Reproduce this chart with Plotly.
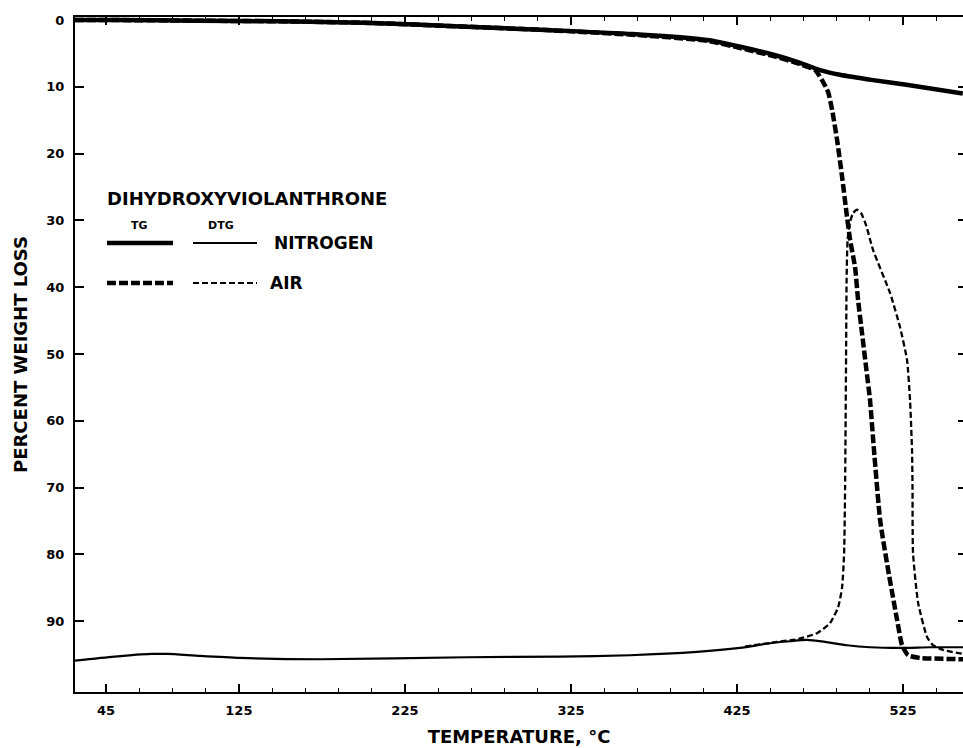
import plotly.graph_objects as go

# ---- Thermogravimetric data: dihydroxyviolanthrone ----
# TG (percent weight loss) in nitrogen
tg_n2_temp = [26, 50, 100, 150, 200, 262, 310, 362, 407, 427, 447, 463, 475, 487, 507, 527, 561]
tg_n2_loss = [0.0, 0.0, 0.1, 0.2, 0.4, 1.0, 1.5, 2.1, 3.0, 4.0, 5.2, 6.4, 7.5, 8.2, 9.0, 9.7, 11.0]

# TG (percent weight loss) in air
tg_air_temp = [26, 50, 100, 150, 200, 262, 310, 362, 407, 427, 447, 463, 472.0, 476.2, 479.9,
               482.3, 485.3, 488.3, 490.7, 493.1, 496.1, 497.9, 500.3, 502.7, 505.1, 507.5,
               511.2, 516.0, 521.4, 524.4, 528.0, 535.2, 561.1]
tg_air_loss = [0.0, 0.0, 0.1, 0.2, 0.4, 1.0, 1.5, 2.2, 3.1, 4.2, 5.4, 6.6, 7.5, 9.0, 10.8,
               13.5, 18.0, 23.5, 28.4, 32.9, 37.0, 41.9, 46.9, 51.9, 56.9, 64.4,
               74.9, 82.3, 89.8, 93.6, 95.1, 95.5, 95.7]

# DTG trace in nitrogen (plotted on the same percent scale)
dtg_n2_temp = [26.3, 50, 72, 82, 101.6, 125.7, 173.9, 262.4, 318.4, 360.6, 400.9, 426.8,
               444.9, 457.0, 467.2, 478.0, 491.3, 505.1, 523.2, 541.3, 561.1]
dtg_n2_val = [95.9, 95.3, 94.9, 94.9, 95.2, 95.5, 95.7, 95.4, 95.3, 95.1, 94.6, 94.0,
              93.3, 93.0, 92.8, 93.1, 93.6, 93.9, 94.0, 93.9, 93.9]

# DTG trace in air
dtg_air_temp = [429.8, 449.1, 461.2, 473.2, 481.0, 485.9, 488.3, 489.5, 490.1, 490.4, 490.7,
                491.0, 491.6, 493.1, 494.9, 497.3, 499.7, 502.7, 506.9, 517.2, 523.2, 527.4,
                529.2, 530.4, 530.7, 531.0, 534.1, 539.5, 543.1, 549.1, 561.1]
dtg_air_val = [93.8, 93.1, 92.7, 91.8, 90.3, 87.9, 84.9, 79.8, 69.9, 59.9, 49.4,
               38.9, 32.9, 30.2, 28.9, 28.4, 28.9, 30.7, 34.4, 40.9, 46.0, 50.9,
               56.9, 64.4, 69.9, 79.8, 87.3, 92.4, 93.6, 94.3, 94.9]

# Axis ticks
x_tick_vals = [45, 125, 225, 325, 425, 525]
x_tick_text = ["45", "125", "225", "325", "425", "525"]
y_tick_vals = [0, 10, 20, 30, 40, 50, 60, 70, 80, 90]
y_tick_text = [str(v) for v in y_tick_vals]

INK = "black"
FONT = "DejaVu Sans"

fig = go.Figure()

fig.add_trace(go.Scatter(x=dtg_n2_temp, y=dtg_n2_val, mode="lines",
                         line=dict(color=INK, width=2.2, shape="spline", smoothing=0.6),
                         name="DTG nitrogen"))
fig.add_trace(go.Scatter(x=dtg_air_temp, y=dtg_air_val, mode="lines",
                         line=dict(color=INK, width=2.3, dash="6px,3px", shape="spline", smoothing=0.5),
                         name="DTG air"))
fig.add_trace(go.Scatter(x=tg_n2_temp, y=tg_n2_loss, mode="lines",
                         line=dict(color=INK, width=4.5, shape="spline", smoothing=0.6),
                         name="TG nitrogen"))
fig.add_trace(go.Scatter(x=tg_air_temp, y=tg_air_loss, mode="lines",
                         line=dict(color=INK, width=4.5, dash="9px,3px", shape="spline", smoothing=0.5),
                         name="TG air"))
# carrier for the right-hand tick axis
fig.add_trace(go.Scatter(x=[], y=[], yaxis="y2", showlegend=False))

# ---- Legend block drawn inside the plot ----
def px_x(p):
    return (p - 75) / 888.0


def px_y(p):
    return (692 - p) / 675.0


legend_rows = [
    # (y pixel, tg dash, dtg dash, label, label x)
    (243, "solid", "solid", "NITROGEN", 272),
    (283, "9px,3px", "6px,3px", "AIR", 268),
]
shapes = []
annotations = []
for ypix, tg_dash, dtg_dash, label, lx in legend_rows:
    shapes.append(dict(type="line", xref="paper", yref="paper",
                       x0=px_x(107), x1=px_x(173), y0=px_y(ypix), y1=px_y(ypix),
                       line=dict(color=INK, width=4.5, dash=tg_dash)))
    shapes.append(dict(type="line", xref="paper", yref="paper",
                       x0=px_x(193), x1=px_x(257), y0=px_y(ypix), y1=px_y(ypix),
                       line=dict(color=INK, width=1.8, dash=dtg_dash)))
    annotations.append(dict(text=label, xref="paper", yref="paper", x=px_x(lx), y=px_y(ypix),
                            xanchor="left", yanchor="middle", showarrow=False,
                            font=dict(family=FONT, size=17, color=INK, weight="bold")))

annotations.append(dict(text="DIHYDROXYVIOLANTHRONE", xref="paper", yref="paper",
                        x=px_x(105), y=px_y(198), xanchor="left", yanchor="middle",
                        showarrow=False, font=dict(family=FONT, size=18, color=INK, weight="bold")))
annotations.append(dict(text="TG", xref="paper", yref="paper", x=px_x(139), y=px_y(225),
                        xanchor="center", yanchor="middle", showarrow=False,
                        font=dict(family=FONT, size=11, color=INK, weight="bold")))
annotations.append(dict(text="DTG", xref="paper", yref="paper", x=px_x(221), y=px_y(225),
                        xanchor="center", yanchor="middle", showarrow=False,
                        font=dict(family=FONT, size=11, color=INK, weight="bold")))

tick_font = dict(family=FONT, size=13, color=INK, weight="bold")
title_font = dict(family=FONT, size=18, color=INK, weight="bold")

fig.update_layout(
    template="none",
    width=963, height=748,
    margin=dict(l=75, r=0, t=17, b=56),
    plot_bgcolor="white", paper_bgcolor="white",
    showlegend=False,
    shapes=shapes,
    annotations=annotations,
    xaxis=dict(
        range=[26.3, 561.1],
        tickmode="array", tickvals=x_tick_vals, ticktext=x_tick_text,
        ticks="inside", ticklen=8, tickwidth=1.5, tickcolor=INK,
        showline=True, linewidth=2, linecolor=INK, mirror="ticks",
        showgrid=False, zeroline=False, automargin=False,
        minor=dict(tick0=25, dtick=20, ticks="inside", ticklen=4, tickwidth=1.2,
                   tickcolor=INK, showgrid=False),
        tickfont=tick_font, ticklabelstandoff=5,
        title=dict(text="TEMPERATURE, °C", font=title_font, standoff=14),
    ),
    yaxis=dict(
        range=[100.6, -0.45],
        tickmode="array", tickvals=y_tick_vals, ticktext=y_tick_text,
        ticks="inside", ticklen=9, tickwidth=1.5, tickcolor=INK,
        showline=True, linewidth=2, linecolor=INK, mirror=False,
        showgrid=False, zeroline=False, automargin=False,
        tickfont=tick_font, ticklabelstandoff=6,
        title=dict(text="PERCENT WEIGHT LOSS", font=title_font, standoff=14),
    ),
    yaxis2=dict(
        overlaying="y", side="right", range=[100.6, -0.45],
        tickmode="array", tickvals=y_tick_vals[1:],
        ticks="inside", ticklen=5, tickwidth=1.5, tickcolor=INK,
        showline=False, showgrid=False, zeroline=False, showticklabels=False,
    ),
)

fig.write_html("out.html")
